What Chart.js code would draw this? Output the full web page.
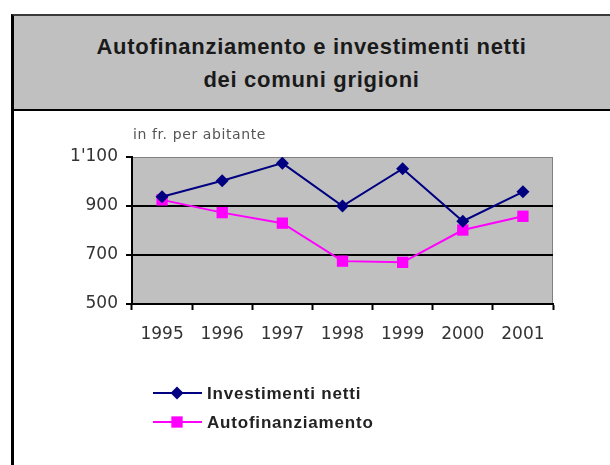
<!DOCTYPE html>
<html lang="it">
  <head>
    <meta charset="UTF-8" />
    <title>Autofinanziamento e investimenti netti</title>
    <script src="https://cdn.jsdelivr.net/npm/chart.js@4.4.0/dist/chart.umd.min.js"></script>
    <style>
      html, body { margin: 0; padding: 0; background: #fff; }
      body { width: 610px; height: 465px; position: relative; overflow: hidden; }
      #titleBand {
        position: absolute; left: 11px; top: 14px; width: 599px; height: 93px;
        background: #c0c0c0; border-top: 2px solid #3a3a3a; border-left: 3px solid #000;
        border-bottom: 2px solid #000; box-sizing: content-box;
        font-family: "Liberation Sans", Arial, sans-serif; font-weight: bold; font-size: 22px;
        letter-spacing: 0.7px; color: #1a1a1a; text-align: center; line-height: 33px;
      }
      #titleBand div { position: relative; top: 14px; left: -2px; }
      #leftEdge { position: absolute; left: 11px; top: 109px; width: 3px; height: 356px; background: #000; }
      #chart { position: absolute; left: 0; top: 0; }
    </style>
  </head>
  <body>
    <div id="titleBand"><div>Autofinanziamento e investimenti netti<br />dei comuni grigioni</div></div>
    <div id="leftEdge"></div>
    <canvas id="chart" width="610" height="465"></canvas>

    <script>
      const years = ["1995", "1996", "1997", "1998", "1999", "2000", "2001"];
      const investimentiNetti = [938, 1003, 1075, 900, 1052, 838, 958];
      const autofinanziamento = [925, 873, 830, 675, 670, 802, 858];
      const seriesNames = ["Investimenti netti", "Autofinanziamento"];
      const unitLabel = "in fr. per abitante";

      const navy = "#000080";
      const magenta = "#ff00ff";

      Chart.defaults.font.family = '"DejaVu Sans", sans-serif';
      Chart.defaults.color = "#333";

      // gray plot background and its thin frame
      const plotBack = {
        id: "plotBack",
        beforeDraw(chart) {
          const { ctx, chartArea: a } = chart;
          ctx.save();
          ctx.fillStyle = "#c0c0c0";
          ctx.fillRect(a.left, a.top, a.right - a.left, a.bottom - a.top);
          ctx.strokeStyle = "#808080";
          ctx.lineWidth = 1;
          ctx.strokeRect(a.left + 0.5, a.top + 0.5, a.right - a.left - 1, a.bottom - a.top);
          ctx.restore();
        },
      };

      // unit note and the legend with line + marker samples
      const extras = {
        id: "extras",
        afterDraw(chart) {
          const { ctx, chartArea: a } = chart;
          ctx.save();
          ctx.fillStyle = "#555";
          ctx.font = '14px "DejaVu Sans", sans-serif';
          ctx.letterSpacing = "0.6px";
          ctx.textBaseline = "middle";
          ctx.fillText(unitLabel, a.left + 1, 135);

          const rows = [
            { name: seriesNames[0], color: navy, style: "rectRot", r: 6.5 },
            { name: seriesNames[1], color: magenta, style: "rect", r: 8 },
          ];
          rows.forEach((row, i) => {
            const y = 393 + i * 29;
            ctx.strokeStyle = row.color;
            ctx.lineWidth = 2;
            ctx.beginPath();
            ctx.moveTo(153, y);
            ctx.lineTo(202, y);
            ctx.stroke();
            ctx.fillStyle = row.color;
            Chart.helpers.drawPoint(ctx, { pointStyle: row.style, radius: row.r, borderWidth: 0 }, 177, y);
            ctx.fillStyle = "#222";
            ctx.font = 'bold 17px "Liberation Sans", Arial, sans-serif';
            ctx.letterSpacing = "0.8px";
            ctx.fillText(row.name, 207, y + 1);
          });
          ctx.restore();
        },
      };

      new Chart(document.getElementById("chart"), {
        type: "line",
        data: {
          labels: years,
          datasets: [
            {
              label: seriesNames[0],
              data: investimentiNetti,
              borderColor: navy,
              backgroundColor: navy,
              borderWidth: 2,
              pointStyle: "rectRot",
              pointRadius: 6.5,
              pointBorderWidth: 0,
              tension: 0,
            },
            {
              label: seriesNames[1],
              data: autofinanziamento,
              borderColor: magenta,
              backgroundColor: magenta,
              borderWidth: 2,
              pointStyle: "rect",
              pointRadius: 8,
              pointBorderWidth: 0,
              tension: 0,
            },
          ],
        },
        options: {
          responsive: false,
          animation: false,
          layout: { padding: { left: 0, right: 57, top: 157, bottom: 116 } },
          plugins: { legend: { display: false }, tooltip: { enabled: false } },
          scales: {
            x: {
              offset: true,
              grid: {
                offset: true,
                drawOnChartArea: false,
                tickColor: "#000",
                tickWidth: 2,
                tickLength: 6,
              },
              border: { color: "#000", width: 2 },
              ticks: { font: { size: 17 }, padding: 14, color: "#333", maxRotation: 0 },
              afterFit(scale) { scale.height = 45; },
            },
            y: {
              min: 500,
              max: 1100,
              grid: {
                color: (c) => (c.tick && (c.tick.value === 900 || c.tick.value === 700) ? "#000" : "rgba(0,0,0,0)"),
                lineWidth: 2,
                tickColor: "#000",
                tickWidth: 2,
                tickLength: 6,
              },
              border: { color: "#000", width: 2 },
              ticks: {
                stepSize: 200,
                font: { size: 17 },
                padding: 8,
                color: "#333",
                callback: (v) => (v >= 1000 ? Math.floor(v / 1000) + "'" + String(v % 1000).padStart(3, "0") : String(v)),
              },
              afterFit(scale) { scale.width = 132; },
            },
          },
        },
        plugins: [plotBack, extras],
      });
    </script>
  </body>
</html>
